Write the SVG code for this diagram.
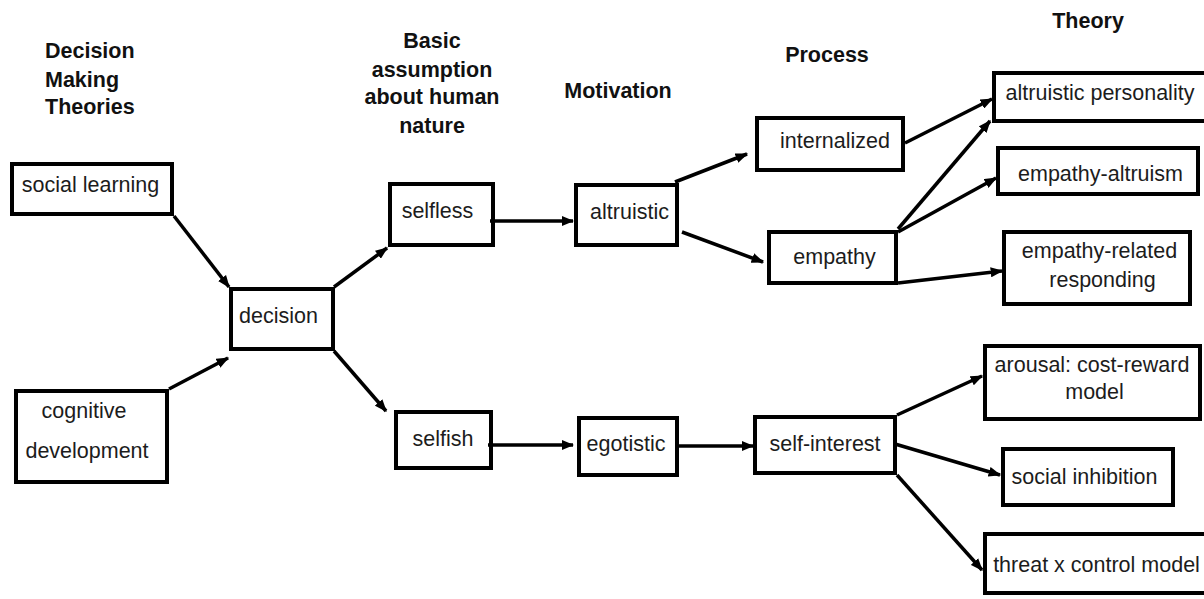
<svg xmlns="http://www.w3.org/2000/svg" width="1204" height="599" viewBox="0 0 1204 599">
  <style>
    .box { fill: none; stroke: #000000; stroke-width: 4; }
    .lbl { font-family: "Liberation Sans", Arial, sans-serif; font-size: 21.5px; fill: #1c1c1c; text-anchor: middle; }
    .hdr { font-family: "Liberation Sans", Arial, sans-serif; font-size: 21.5px; font-weight: bold; fill: #111111; }
    .edge { stroke: #000000; stroke-width: 3.5; fill: none; marker-end: url(#arrow); }
  </style>
  <defs>
    <marker id="arrow" viewBox="0 0 10 8" refX="9" refY="4" markerWidth="3.6" markerHeight="2.9" markerUnits="strokeWidth" orient="auto">
      <path d="M0,0 L10,4 L0,8 Z" fill="#000000"/>
    </marker>
  </defs>
  <rect width="1204" height="599" fill="#ffffff"/>

  <!-- column headings -->
  <g id="headings">
    <text class="hdr" x="45" y="58">Decision</text>
    <text class="hdr" x="45" y="87">Making</text>
    <text class="hdr" x="45" y="114">Theories</text>
    <text class="hdr" x="432" y="48" text-anchor="middle">Basic</text>
    <text class="hdr" x="432" y="77" text-anchor="middle">assumption</text>
    <text class="hdr" x="432" y="104" text-anchor="middle">about human</text>
    <text class="hdr" x="432" y="133" text-anchor="middle">nature</text>
    <text class="hdr" x="618" y="98" text-anchor="middle">Motivation</text>
    <text class="hdr" x="827" y="62" text-anchor="middle">Process</text>
    <text class="hdr" x="1088" y="28" text-anchor="middle">Theory</text>
  </g>

  <!-- nodes -->
  <g id="social-learning">
    <rect class="box" x="12" y="164" width="160" height="50"/>
    <text class="lbl" x="90.5" y="192">social learning</text>
  </g>
  <g id="cognitive-development">
    <rect class="box" x="16" y="391" width="151" height="91"/>
    <text class="lbl" x="84" y="418">cognitive</text>
    <text class="lbl" x="87" y="458">development</text>
  </g>
  <g id="decision">
    <rect class="box" x="231" y="289" width="102" height="60"/>
    <text class="lbl" x="278.5" y="323">decision</text>
  </g>
  <g id="selfless">
    <rect class="box" x="390" y="184" width="103" height="61"/>
    <text class="lbl" x="437.5" y="218">selfless</text>
  </g>
  <g id="selfish">
    <rect class="box" x="396" y="412" width="95" height="56"/>
    <text class="lbl" x="443" y="446">selfish</text>
  </g>
  <g id="altruistic">
    <rect class="box" x="576" y="185" width="101" height="60"/>
    <text class="lbl" x="629.5" y="219">altruistic</text>
  </g>
  <g id="egotistic">
    <rect class="box" x="579" y="418" width="98" height="57"/>
    <text class="lbl" x="626" y="451">egotistic</text>
  </g>
  <g id="internalized">
    <rect class="box" x="757" y="118" width="146" height="52"/>
    <text class="lbl" x="835" y="148">internalized</text>
  </g>
  <g id="empathy">
    <rect class="box" x="769" y="232" width="127" height="51"/>
    <text class="lbl" x="834.5" y="264">empathy</text>
  </g>
  <g id="self-interest">
    <rect class="box" x="755" y="417" width="140" height="56"/>
    <text class="lbl" x="825" y="451">self-interest</text>
  </g>
  <g id="altruistic-personality">
    <rect class="box" x="994" y="73" width="215" height="48"/>
    <text class="lbl" x="1100" y="100">altruistic personality</text>
  </g>
  <g id="empathy-altruism">
    <rect class="box" x="998" y="148" width="200" height="46"/>
    <text class="lbl" x="1100.5" y="181">empathy-altruism</text>
  </g>
  <g id="empathy-related-responding">
    <rect class="box" x="1004" y="232" width="186" height="72"/>
    <text class="lbl" x="1099.5" y="258">empathy-related</text>
    <text class="lbl" x="1102.5" y="287">responding</text>
  </g>
  <g id="arousal-cost-reward">
    <rect class="box" x="985" y="346" width="215" height="73"/>
    <text class="lbl" x="1092" y="372">arousal: cost-reward</text>
    <text class="lbl" x="1094.5" y="399">model</text>
  </g>
  <g id="social-inhibition">
    <rect class="box" x="1003" y="449" width="170" height="56"/>
    <text class="lbl" x="1084.5" y="484">social inhibition</text>
  </g>
  <g id="threat-control">
    <rect class="box" x="985" y="534" width="230" height="59"/>
    <text class="lbl" x="1096.5" y="572">threat x control model</text>
  </g>

  <!-- connectors, drawn over the boxes so lines that start inside a box stay visible -->
  <g id="connectors">
    <line class="edge" x1="174" y1="216" x2="229" y2="287"/>
    <line class="edge" x1="169" y1="389" x2="228" y2="358"/>
    <line class="edge" x1="334" y1="287" x2="387" y2="248"/>
    <line class="edge" x1="334" y1="351" x2="386" y2="411"/>
    <line class="edge" x1="490" y1="221" x2="573" y2="221"/>
    <line class="edge" x1="488" y1="445" x2="573" y2="445"/>
    <line class="edge" x1="679" y1="446" x2="753" y2="446"/>
    <line class="edge" x1="675" y1="182" x2="747" y2="154"/>
    <line class="edge" x1="682" y1="232" x2="763" y2="262"/>
    <line class="edge" x1="905" y1="143" x2="992" y2="99"/>
    <line class="edge" x1="898" y1="229" x2="990" y2="121"/>
    <line class="edge" x1="898" y1="232" x2="996" y2="178"/>
    <line class="edge" x1="898" y1="283" x2="1002" y2="271"/>
    <line class="edge" x1="897" y1="415" x2="982" y2="376"/>
    <line class="edge" x1="895" y1="444" x2="1000" y2="475"/>
    <line class="edge" x1="897" y1="475" x2="982" y2="570"/>
  </g>
</svg>
